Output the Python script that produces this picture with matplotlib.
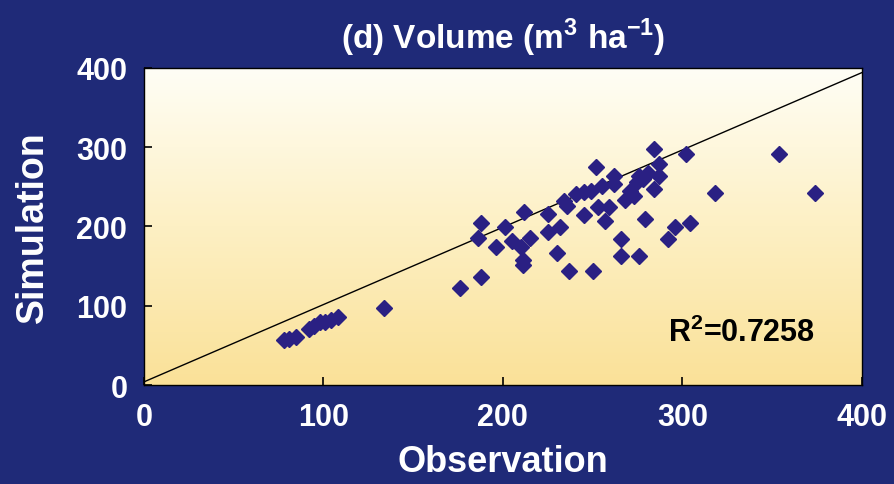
import numpy as np
import matplotlib.pyplot as plt
from matplotlib.colors import LinearSegmentedColormap

observation = [78, 81, 85, 92, 95, 98, 101, 104, 108, 134, 176, 188, 188, 186,
               196, 201, 205, 210, 211, 211, 215, 212, 225, 225, 230, 232,
               234, 236, 237, 241, 245, 245, 249, 250, 252, 253, 255, 257,
               259, 262, 262, 266, 266, 268, 271, 273, 275, 276, 276, 278,
               279, 281, 284, 284, 287, 287, 292, 296, 302, 304, 318, 354,
               374]
simulation = [57, 58, 60, 71, 75, 79, 79, 82, 86, 97, 122, 136, 205, 186,
              174, 199, 182, 174, 152, 158, 186, 218, 216, 193, 167, 199,
              232, 226, 144, 241, 214, 243, 245, 144, 275, 224, 251, 207,
              224, 264, 254, 184, 163, 233, 245, 239, 256, 264, 163, 260,
              209, 268, 298, 247, 279, 264, 184, 199, 292, 205, 242, 292,
              242]

# trend line as drawn in the original
line_x = [0, 400]
line_y = [4, 394]

x_ticks = [0, 100, 200, 300, 400]
y_ticks = [0, 100, 200, 300, 400]
r2_text = "R$^\\mathregular{2}$=0.7258"

bg_blue = "#1f2a78"
marker_blue = "#2a2083"

plt.rcParams['font.family'] = ['Liberation Sans', 'DejaVu Sans']
plt.rcParams['mathtext.fontset'] = 'custom'
plt.rcParams['mathtext.rm'] = 'Liberation Sans:bold'

fig = plt.figure(figsize=(8.94, 4.85), dpi=100, facecolor=bg_blue)
ax = fig.add_axes([0.161, 0.204, 0.803, 0.654])

# plot area fill: near white at the top fading to pale yellow
grad = LinearSegmentedColormap.from_list(
    "cream", ["#fae198", "#fdf0c4", "#fffef6"])
ax.imshow(np.linspace(0, 1, 256).reshape(-1, 1), cmap=grad, origin='lower',
          extent=[0, 400, 0, 400], aspect='auto', zorder=0)

ax.plot(line_x, line_y, color='black', linewidth=1.0, zorder=2)
ax.plot(observation, simulation, linestyle='none', marker='D', markersize=8.5,
        color=marker_blue, zorder=3)

ax.set_xlim(0, 400)
ax.set_ylim(0, 400)
ax.set_xticks(x_ticks)
ax.set_yticks(y_ticks)
ax.tick_params(direction='in', length=6, width=1.2, color='black',
               labelcolor='white', labelsize=22, pad=12)
for lab in ax.get_xticklabels() + ax.get_yticklabels():
    lab.set_fontweight('bold')

for spine in ax.spines.values():
    spine.set_color('black')
    spine.set_linewidth(1.0)

ax.text(292, 55, r2_text, fontsize=22, fontweight='bold', color='black',
        ha='left', va='baseline', zorder=4)

ax.set_title("(d) Volume (m$^\\mathregular{3}$ ha$^\\mathregular{-1}$)",
             color='white', fontsize=24, fontweight='bold', pad=14)
ax.set_xlabel("Observation", color='white', fontsize=26, fontweight='bold',
              labelpad=9)
ax.set_ylabel("Simulation", color='white', fontsize=27, fontweight='bold',
              labelpad=18)

plt.savefig("out.png", dpi=100, facecolor=bg_blue)
